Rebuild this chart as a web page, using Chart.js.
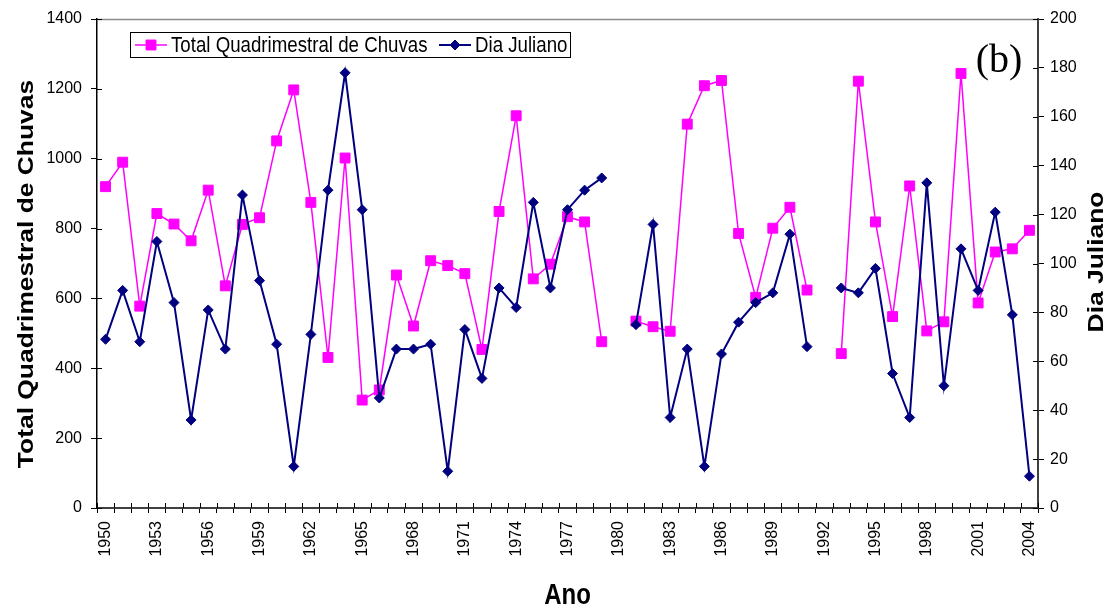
<!DOCTYPE html>
<html>
<head>
<meta charset="utf-8">
<script src="https://cdn.jsdelivr.net/npm/chart.js@4.4.0/dist/chart.umd.min.js"></script>
<style>
  html, body { margin: 0; padding: 0; background: #fff; }
  #wrap { width: 1111px; height: 609px; }
</style>
</head>
<body>
<div id="wrap"><canvas id="chart" width="1111" height="609"></canvas></div>
<script>
const anos = ['1950','1951','1952','1953','1954','1955','1956','1957','1958','1959',
  '1960','1961','1962','1963','1964','1965','1966','1967','1968','1969',
  '1970','1971','1972','1973','1974','1975','1976','1977','1978','1979',
  '1980','1981','1982','1983','1984','1985','1986','1987','1988','1989',
  '1990','1991','1992','1993','1994','1995','1996','1997','1998','1999',
  '2000','2001','2002','2003','2004'];

// Total Quadrimestral de Chuvas (left axis)
const chuvas = [920, 990, 578, 843, 813, 765, 910, 636, 812, 831,
  1051, 1197, 875, 431, 1002, 309, 338, 667, 521, 708,
  694, 671, 454, 849, 1123, 656, 698, 834, 819, 476,
  null, 535, 519, 506, 1099, 1209, 1224, 786, 603, 801,
  861, 624, null, 442, 1222, 819, 548, 922, 507, 533,
  1244, 587, 733, 742, 795];

// Dia Juliano (right axis)
const diaJuliano = [69, 89, 68, 109, 84, 36, 81, 65, 128, 93,
  67, 17, 71, 130, 178, 122, 45, 65, 65, 67,
  15, 73, 53, 90, 82, 125, 90, 122, 130, 135,
  null, 75, 116, 37, 65, 17, 63, 76, 84, 88,
  112, 66, null, 90, 88, 98, 55, 37, 133, 50,
  106, 89, 121, 79, 13];

const PINK = '#FF00FF';
const NAVY = '#000080';
const SANS = 'Arial, "Liberation Sans", sans-serif';

Chart.defaults.font.family = SANS;
Chart.defaults.color = '#000';

function stretchedText(ctx, text, x, y, font, sx, sy, rot) {
  ctx.save();
  ctx.translate(x, y);
  if (rot) ctx.rotate(rot);
  ctx.scale(sx, sy);
  ctx.font = font;
  ctx.fillStyle = '#000';
  ctx.textAlign = 'center';
  ctx.textBaseline = 'middle';
  ctx.fillText(text, 0, 0);
  ctx.restore();
}

const extras = {
  id: 'extras',
  afterDraw(chart) {
    const ctx = chart.ctx;
    const area = chart.chartArea;
    const xs = chart.scales.x, yl = chart.scales.y, yr = chart.scales.y1;

    ctx.save();
    // top border of plot area
    ctx.strokeStyle = '#8c8c8c';
    ctx.lineWidth = 1.5;
    ctx.beginPath();
    ctx.moveTo(area.left, area.top + 0.5);
    ctx.lineTo(area.right, area.top + 0.5);
    ctx.stroke();

    // inner halves of tick marks
    ctx.strokeStyle = '#000';
    ctx.lineWidth = 1;
    ctx.beginPath();
    const step = xs.getPixelForValue(1) - xs.getPixelForValue(0);
    for (let i = 0; i <= anos.length; i++) {
      const px = Math.round(xs.getPixelForValue(0) - step / 2 + i * step) + 0.5;
      ctx.moveTo(px, area.bottom);
      ctx.lineTo(px, area.bottom - 5);
    }
    yl.ticks.forEach(t => {
      const py = Math.round(yl.getPixelForValue(t.value)) + 0.5;
      ctx.moveTo(area.left, py);
      ctx.lineTo(area.left + 5, py);
    });
    yr.ticks.forEach(t => {
      const py = Math.round(yr.getPixelForValue(t.value)) + 0.5;
      ctx.moveTo(area.right, py);
      ctx.lineTo(area.right - 5, py);
    });
    ctx.stroke();
    ctx.restore();

    // axis titles
    const titleFont = 'bold 22px ' + SANS;
    stretchedText(ctx, 'Total Quadrimestral de Chuvas', 27, 274, titleFont, 1.2, 1, -Math.PI / 2);
    stretchedText(ctx, 'Dia Juliano', 1097, 262, titleFont, 1.2, 1, -Math.PI / 2);
    stretchedText(ctx, 'Ano', (area.left + area.right) / 2, 596, 'bold 24px ' + SANS, 1, 1.2, 0);

    // (b)
    stretchedText(ctx, '(b)', 999, 61, '40px "Times New Roman", "Liberation Serif", serif', 1, 1, 0);

    // legend box
    ctx.save();
    ctx.fillStyle = '#fff';
    ctx.fillRect(130, 32, 440, 26);
    ctx.strokeStyle = '#000';
    ctx.lineWidth = 1;
    ctx.strokeRect(130.5, 32.5, 440, 25);
    const ly = 45;
    const items = [
      { x0: 135, x1: 167, text: 'Total Quadrimestral de Chuvas', tx: 171, ds: chart.data.datasets[0] },
      { x0: 439, x1: 471, text: 'Dia Juliano', tx: 475, ds: chart.data.datasets[1] }
    ];
    items.forEach(it => {
      ctx.strokeStyle = it.ds.borderColor;
      ctx.lineWidth = it.ds.borderWidth;
      ctx.beginPath();
      ctx.moveTo(it.x0, ly);
      ctx.lineTo(it.x1, ly);
      ctx.stroke();
      ctx.fillStyle = it.ds.backgroundColor;
      ctx.lineWidth = 1;
      Chart.helpers.drawPoint(ctx, { pointStyle: it.ds.pointStyle, radius: it.ds.pointRadius, rotation: 0, borderWidth: 1 }, (it.x0 + it.x1) / 2, ly);
      ctx.save();
      ctx.translate(it.tx, ly);
      ctx.scale(1.01, 1.15);
      ctx.font = '18.5px ' + SANS;
      ctx.fillStyle = '#000';
      ctx.textAlign = 'left';
      ctx.textBaseline = 'middle';
      ctx.fillText(it.text, 0, 1);
      ctx.restore();
    });
    ctx.restore();
  }
};

const ctx = document.getElementById('chart').getContext('2d');
new Chart(ctx, {
  type: 'line',
  data: {
    labels: anos,
    datasets: [
      {
        label: 'Total Quadrimestral de Chuvas',
        data: chuvas,
        yAxisID: 'y',
        borderColor: PINK,
        backgroundColor: PINK,
        borderWidth: 1.5,
        pointStyle: 'rect',
        pointRadius: 7,
        pointBorderWidth: 1,
        spanGaps: false,
        order: 1
      },
      {
        label: 'Dia Juliano',
        data: diaJuliano,
        yAxisID: 'y1',
        borderColor: NAVY,
        backgroundColor: NAVY,
        borderWidth: 2,
        pointStyle: 'rectRot',
        pointRadius: 5,
        pointBorderWidth: 1,
        spanGaps: false,
        order: 0
      }
    ]
  },
  options: {
    responsive: false,
    animation: false,
    devicePixelRatio: 1,
    layout: { padding: { top: 19, left: 0, right: 0, bottom: 0 } },
    plugins: {
      legend: { display: false },
      tooltip: { enabled: false }
    },
    scales: {
      x: {
        type: 'category',
        offset: true,
        grid: { offset: true, drawOnChartArea: false, drawTicks: true, tickLength: 5, color: '#000' },
        border: { color: '#404040', width: 2 },
        ticks: {
          autoSkip: false,
          minRotation: 90,
          maxRotation: 90,
          padding: 8,
          font: { size: 16 },
          color: '#000',
          callback: function (v, i) { return i % 3 === 0 ? this.getLabelForValue(v) : ''; }
        },
        afterFit: s => { s.height = 101; }
      },
      y: {
        position: 'left',
        min: 0,
        max: 1400,
        ticks: { stepSize: 200, font: { size: 16 }, color: '#000', padding: 9, callback: v => String(v) },
        grid: { drawOnChartArea: false, tickLength: 6, color: '#000' },
        border: { color: '#000', width: 1.5 },
        afterFit: s => { s.width = 97; }
      },
      y1: {
        position: 'right',
        min: 0,
        max: 200,
        ticks: { stepSize: 20, font: { size: 16 }, color: '#000', padding: 6, callback: v => String(v) },
        grid: { drawOnChartArea: false, tickLength: 6, color: '#000' },
        border: { color: '#404040', width: 2 },
        afterFit: s => { s.width = 73; }
      }
    }
  },
  plugins: [extras]
});
</script>
</body>
</html>
